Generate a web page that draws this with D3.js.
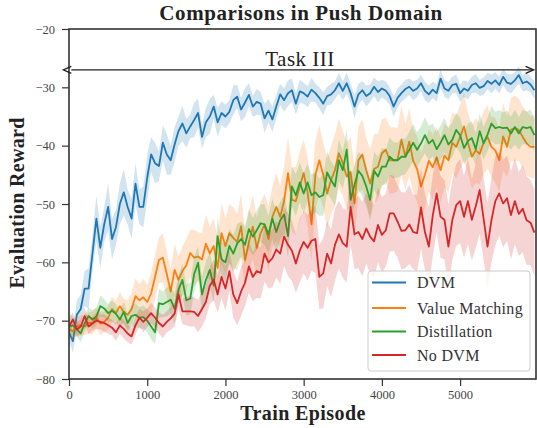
<!DOCTYPE html>
<html><head><meta charset="utf-8">
<script src="https://cdn.jsdelivr.net/npm/d3@7"></script>
<style>
html,body{margin:0;padding:0;background:#fff;}
svg{display:block;}
text{font-family:"Liberation Serif","Times New Roman",serif;}
</style></head><body>
<svg id="c" width="537" height="428"></svg>
<script>
const title = "Comparisons in Push Domain";
const xLabel = "Train Episode";
const yLabel = "Evaluation Reward";
const annotation = "Task III";
const seriesNames = ["DVM", "Value Matching", "Distillation", "No DVM"];
const seriesColors = ["#1f77b4", "#ff7f0e", "#2ca02c", "#d62728"];
const xTicks = [0, 1000, 2000, 3000, 4000, 5000];
const yTicks = [-80, -70, -60, -50, -40, -30, -20];
const episodes = d3.range(0, 6000, 50);

const dvm = [-72,-73.5,-69,-68,-64.5,-64.5,-58.5,-52.5,-57.5,-53.5,-50.5,-56,-54,-50,-48,-50.5,-52.5,-46.5,-50.5,-50.5,
-45.5,-41.5,-43,-43.5,-39.5,-41.5,-42.5,-39.8,-37.5,-36.2,-37.9,-36.7,-35.6,-34.4,-38.5,-36,-35,-33.3,-36,-34.4,
-35,-34.2,-32.2,-31.6,-33.8,-32.6,-31.3,-33.3,-32.5,-32.8,-35.3,-34,-35.5,-33.3,-31.2,-32.2,-31,-30.5,-32.8,-30.7,
-31,-31.6,-30.4,-31,-31.8,-32.8,-31.5,-31.2,-30.5,-29.3,-30.6,-29.3,-31,-33.3,-31.2,-30.5,-31.5,-31,-29.9,-30.8,
-30.2,-30.6,-31.5,-33.3,-31.8,-31,-30.3,-29.9,-30.6,-30.2,-29.3,-30.6,-31.2,-30.4,-31,-28.5,-30.2,-30.6,-29.6,-29.4,
-31,-30.2,-30.6,-29.6,-29.3,-30.1,-29.8,-28.9,-29.4,-28.8,-29.6,-28.2,-29.2,-29.4,-28.8,-27.9,-29.3,-29,-29.5,-30.5];
const dvmStd = [1.5,2,2.5,2.5,3,3.5,3,4,3.5,3,4,3.5,3,3.5,4,3,3.5,3.5,3,3.5,
4,3,3.5,2.5,3,3.5,2.5,3,2.5,3,2.5,2,3,2.5,2,2.5,3,2,2.5,2,
2,2,2.5,2,2,2.5,2,1.8,2.2,2,2.5,2,2.2,2,1.8,2,2.2,2,1.8,2,
1.8,1.8,2,1.6,1.8,2,1.6,1.8,1.5,1.8,1.6,1.8,1.6,2,1.8,1.6,1.8,1.5,1.6,1.8,
1.5,1.6,1.5,1.8,1.6,1.5,1.6,1.4,1.6,1.5,1.4,1.6,1.5,1.4,1.5,1.6,1.4,1.5,1.4,1.6,
1.5,1.4,1.5,1.4,1.6,1.4,1.5,1.4,1.6,1.4,1.5,1.4,1.5,1.6,1.4,1.5,1.4,1.5,1.4,1.5];

const valueMatching = [-71.5,-71.8,-71,-70.8,-71,-70.4,-70.4,-69.5,-70.5,-70.2,-69.5,-68,-68.7,-67.5,-68.5,-69,-68,-65.8,-66.5,-66,
-66.8,-65.3,-62.5,-59.6,-59.2,-62,-65,-61.3,-63,-61.5,-60.5,-58.4,-59.2,-59,-59.5,-56.8,-58.5,-57.2,-61,-55,
-57.2,-55,-55.8,-56.5,-53.8,-59.6,-56.5,-53.9,-57.5,-55,-53.5,-56,-52.2,-50.5,-52.2,-49.5,-44.7,-49.3,-49.5,-47,
-44.7,-48,-53.5,-45,-42.5,-45,-48.2,-45.9,-44.2,-41.3,-43,-45.3,-44.5,-49.9,-42.5,-41.5,-44.2,-46.5,-44,-43.6,
-41.3,-40.7,-42.5,-42.5,-42.4,-39,-41.9,-39.3,-42.6,-44,-47,-45,-42.6,-43.7,-42,-44.2,-41.7,-42.5,-39.5,-40.2,
-38.5,-36.7,-39.5,-41.9,-40.8,-41.4,-39.5,-38.5,-40.2,-40.8,-42.5,-38.4,-40.2,-37.3,-37,-37.3,-38.5,-39.6,-40.2,-40.2];
const valueMatchingStd = [1.2,1.5,1.5,1.8,1.5,1.8,2,1.8,2,1.8,2,2.2,2,2.5,2.2,2.5,2.8,3,2.8,3.2,
3,3.5,3.8,4,4.2,3.8,4,4.5,4,4.2,4.5,4,4.8,4.2,4.5,5,4.6,4.8,5,5.2,
4.8,5,5.2,4.8,5.5,5,5.2,5.5,5,5.4,5.2,5.6,5.2,5.8,5.4,6,6.2,5.6,5.8,6,
5.8,6,6.2,5.8,6,5.6,6,5.8,6.2,6,5.6,5.8,6,6.2,5.8,6,5.5,5.8,6,5.6,
5.8,5.5,5.8,5.6,5.4,6,5.6,5.8,5.4,5.6,5.8,5.5,5.4,5.6,5.2,5.5,5.4,5.6,5.2,5.4,
5.5,5.8,5.2,5.4,5.6,5.2,5.5,5.4,5.2,5.6,5.4,5.8,5.2,5.5,5.6,5.4,5.2,5.5,5.3,5.4];

const distillation = [-71,-70.8,-71.5,-72.2,-70.5,-69.2,-69.8,-69.3,-67.5,-67.9,-68.7,-68.3,-68.8,-69.8,-68.5,-70.4,-69.2,-69,-69.5,-69.4,
-70,-71,-72,-67,-67.2,-66.8,-66.4,-68,-64.7,-63,-66.5,-66.2,-62,-60.1,-65.5,-63,-61.3,-64,-55.5,-59.5,
-60,-57.2,-58.5,-56.8,-56,-57,-54.3,-55.6,-54.5,-53.3,-53.5,-55.2,-52.5,-54.8,-52.8,-51.8,-55.5,-47,-48.5,-46.3,
-48.2,-46.3,-48.5,-48,-48.8,-48.5,-44.6,-45.9,-47,-42.5,-44.2,-40.7,-49.3,-46.7,-44.3,-45.2,-47,-49.3,-44.3,-45.3,
-43.6,-43.6,-41.9,-42.5,-42.5,-41.9,-41.9,-40.7,-39.5,-40.7,-39.6,-38.2,-39.6,-39,-40.6,-39.5,-38.2,-39.8,-39,-37.3,
-38.2,-40.4,-39.2,-38.7,-40.6,-37.5,-39.6,-38.1,-36.2,-37,-36.8,-37,-36.9,-37.9,-36.8,-37.9,-36.8,-37,-36.8,-38.2];
const distillationStd = [2.5,1.5,1.2,1.5,1.4,1.5,1.6,1.5,1.8,1.6,1.5,1.8,1.6,1.5,1.8,1.6,1.8,2,1.8,2,
2,2.2,2,2.5,2.2,2.5,2.4,2.6,2.5,2.8,2.6,2.8,3,2.8,3,3.2,3,2.8,3.2,3,
3.2,3,3.2,3.4,3,3.2,3.5,3.2,3.4,3.2,3.5,3.2,3.4,3.6,3.2,3.4,3.8,3.4,3.6,3.4,
3.5,3.2,3.6,3.4,3.2,3.5,3.6,3.2,3.4,3.6,3.2,3.5,3.8,3.4,3.2,3.5,3.4,3.6,3.2,3.4,
3.2,3,3.3,3.1,3,3.2,3,3.1,3.2,3,2.9,3.1,3,2.8,3,2.9,3,2.8,3,2.9,
3,2.8,3,2.9,2.8,3,2.8,2.9,3,2.8,2.9,2.7,2.9,2.8,3,2.8,2.9,2.8,3,2.8];

const noDvm = [-71,-69.8,-71.5,-71,-69.2,-71,-70.5,-70,-70.2,-70.4,-70.8,-71.2,-72,-70.8,-71.4,-72.2,-72.7,-70.8,-69.5,-70.2,
-69.5,-68.7,-69.5,-70.4,-71,-70.2,-69.6,-68.8,-65.5,-68.4,-68.4,-68.4,-68.5,-69.2,-68,-66.8,-64,-63,-65.5,-62.5,
-64.5,-61.5,-65.5,-67,-65,-63.5,-60.7,-62.5,-61.5,-61.8,-58.5,-60,-59.3,-57.8,-58.5,-55.6,-57,-58,-60.2,-58,
-56.5,-57.5,-56.3,-56,-62.5,-61.9,-58.5,-60.2,-57,-55.2,-56.7,-57.3,-50.5,-55.2,-54.8,-56,-54.2,-55.6,-56.4,-53.6,
-55.3,-54.5,-51.6,-51.6,-53,-54.6,-54.5,-53.5,-54.8,-55,-50.6,-54.8,-57.3,-52,-48.2,-52.2,-52.7,-57.3,-52.8,-50.2,
-49.5,-52.2,-49.5,-52.7,-50.4,-47.6,-52.5,-57.3,-52.8,-49.5,-48.2,-49.9,-49,-51.9,-49.5,-51.7,-50.8,-52.8,-53.2,-54.9];
const noDvmStd = [1.2,1.2,1.3,1.2,1.4,1.3,1.2,1.4,1.3,1.5,1.4,1.3,1.5,1.4,1.6,1.5,1.4,1.6,1.5,1.8,
1.6,1.8,1.7,1.8,2,1.8,2,2.2,2.5,2.2,2.4,2.6,2.5,2.8,3,2.8,3.2,3.5,3.2,3.6,
3.8,3.5,4,3.8,4.2,4,4.5,4.2,4.6,4.4,4.8,4.5,5,4.8,5.2,5,5.4,5.2,5,5.5,
5.4,5.6,5.2,5.8,5.5,6,5.6,5.8,6.2,5.8,6,6.2,6.5,6,6.2,6.4,6,6.5,6.2,6.4,
6.5,6.2,6.6,6.4,6.2,6.6,6.5,6.8,6.4,6.6,7,6.5,6.8,7,6.6,7,6.8,7.2,6.8,7,
7.2,7,7.4,7,7.2,7.5,7,7.4,7.2,7.6,7.2,7.5,7.3,7.6,7.4,7.2,7.5,7.6,7.3,7.5];

const values = [dvm, valueMatching, distillation, noDvm];
const stds = [dvmStd, valueMatchingStd, distillationStd, noDvmStd];

const W = 537, H = 428;
const m = {left: 69, right: 1, top: 29, bottom: 49};
const pw = W - m.left - m.right, ph = H - m.top - m.bottom;
const svg = d3.select("#c");
const x = d3.scaleLinear().domain([0, 5970]).range([m.left, m.left + pw]);
const y = d3.scaleLinear().domain([-80, -20]).range([m.top + ph, m.top]);

svg.append("defs").append("clipPath").attr("id", "clip")
  .append("rect").attr("x", m.left).attr("y", m.top).attr("width", pw).attr("height", ph);

const plot = svg.append("g").attr("clip-path", "url(#clip)");
values.forEach((vals, si) => {
  const pts = episodes.map((e, i) => ({e, v: vals[i], s: stds[si][i]})).filter(d => d.v !== undefined);
  const area = d3.area().x(d => x(d.e)).y0(d => y(d.v - d.s)).y1(d => y(d.v + d.s));
  const line = d3.line().x(d => x(d.e)).y(d => y(d.v));
  plot.append("path").datum(pts).attr("d", area).attr("fill", seriesColors[si]).attr("fill-opacity", 0.2);
  plot.append("path").datum(pts).attr("d", line).attr("fill", "none").attr("stroke", seriesColors[si])
    .attr("stroke-width", 1.8).attr("stroke-linejoin", "round");
});

// axes
const xAxis = d3.axisBottom(x).tickValues(xTicks).tickSize(7).tickPadding(4).tickFormat(d3.format("d"));
const yAxis = d3.axisLeft(y).tickValues(yTicks).tickSize(7).tickPadding(7).tickFormat(d => d3.format("d")(d).replace("-", "\u2212"));
const gx = svg.append("g").attr("transform", `translate(0,${m.top + ph})`).call(xAxis);
const gy = svg.append("g").attr("transform", `translate(${m.left},0)`).call(yAxis);
[gx, gy].forEach(g => {
  g.select(".domain").remove();
  g.selectAll(".tick line").attr("stroke", "#333").attr("stroke-width", 1.2);
  g.selectAll(".tick text").attr("fill", "#444").style("font-size", "12.5px")
    .style("font-family", '"Liberation Serif",serif');
});
gx.selectAll(".tick text").attr("dy", "0.75em");

// frame
svg.append("rect").attr("x", m.left).attr("y", m.top).attr("width", pw).attr("height", ph)
  .attr("fill", "none").attr("stroke", "#333").attr("stroke-width", 1.6);

// annotation arrow
const defs = svg.select("defs");
["s", "e"].forEach(k => {
  defs.append("marker").attr("id", "arr" + k).attr("viewBox", "0 0 10 10").attr("refX", k === "e" ? 9 : 1).attr("refY", 5)
    .attr("markerWidth", 10).attr("markerHeight", 10).attr("markerUnits", "userSpaceOnUse")
    .attr("orient", k === "e" ? "auto" : "auto-start-reverse")
    .append("path").attr("d", "M1,1.5 L9,5 L1,8.5").attr("fill", "none").attr("stroke", "#222").attr("stroke-width", 1.3);
});
svg.append("line").attr("x1", x(30)).attr("x2", x(5940)).attr("y1", y(-27)).attr("y2", y(-27))
  .attr("stroke", "#222").attr("stroke-width", 1.3)
  .attr("marker-start", "url(#arrs)").attr("marker-end", "url(#arre)");
svg.append("text").attr("x", 300).attr("y", y(-27) - 4).attr("text-anchor", "middle")
  .style("font-size", "21px").style("letter-spacing", "0.5px").attr("fill", "#222").text(annotation);

// title & labels
svg.append("text").attr("x", 301).attr("y", 20).attr("text-anchor", "middle")
  .style("font-size", "21px").style("letter-spacing", "0.6px").style("font-weight", "bold").attr("fill", "#222").text(title);
svg.append("text").attr("x", 303).attr("y", 420).attr("text-anchor", "middle")
  .style("font-size", "20px").style("letter-spacing", "0.4px").style("font-weight", "bold").attr("fill", "#222").text(xLabel);
svg.append("text").attr("transform", `translate(24,${m.top + ph / 2 - 1}) rotate(-90)`).attr("text-anchor", "middle")
  .style("font-size", "20px").style("letter-spacing", "0.3px").style("font-weight", "bold").attr("fill", "#222").text(yLabel);

// legend
const lg = svg.append("g");
lg.append("rect").attr("x", 368).attr("y", 271).attr("width", 162).attr("height", 100).attr("rx", 3)
  .attr("fill", "#fff").attr("fill-opacity", 0.8).attr("stroke", "#ccc").attr("stroke-width", 1);
const legendY = [282.5, 308, 331.5, 355];
seriesNames.forEach((n, i) => {
  lg.append("line").attr("x1", 372).attr("x2", 406).attr("y1", legendY[i]).attr("y2", legendY[i])
    .attr("stroke", seriesColors[i]).attr("stroke-width", 1.8);
  lg.append("text").attr("x", 417).attr("y", legendY[i]).attr("dy", "0.35em")
    .style("font-size", "16px").style("letter-spacing", "0.3px").attr("fill", "#333").text(n);
});
</script>
</body></html>
